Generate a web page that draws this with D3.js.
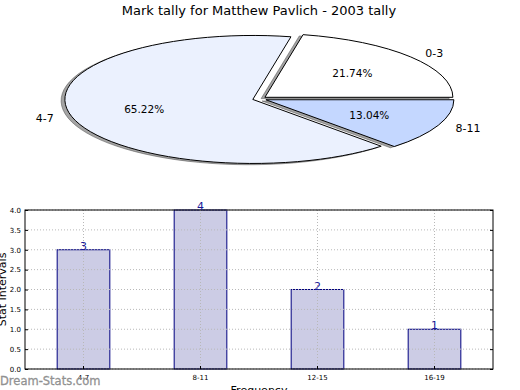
<!DOCTYPE html>
<html>
<head>
<meta charset="utf-8">
<script src="https://cdn.jsdelivr.net/npm/d3@7"></script>
<style>
  body { margin: 0; background: #fff; }
  svg { display: block; font-family: "DejaVu Sans", sans-serif; }
</style>
</head>
<body>
<div id="chart"></div>
<script>
// pie data
const pieLabels = ['0-3', '4-7', '8-11'];
const pieValues = [5, 15, 3];
const pieColors = ['#ffffff', '#ebf1fe', '#c4d7ff'];

// bar data
const barCats = ['4-7', '8-11', '12-15', '16-19'];
const barValues = [3, 4, 2, 1];
const yTicks = [0, 0.5, 1, 1.5, 2, 2.5, 3, 3.5, 4];

const W = 520, H = 390;
const svg = d3.select('#chart').append('svg')
  .attr('width', W)
  .attr('height', H);

svg.append('text')
  .attr('x', 259).attr('y', 15)
  .attr('text-anchor', 'middle')
  .style('font-size', '13px')
  .text('Mark tally for Matthew Pavlich - 2003 tally');

// ---- Pie (elliptical, matplotlib style: ccw from east) ----
const cx = 259.5, cy = 98.8, rx = 188, ry = 64;
const explode = 0.037;

const pie = d3.pie()
  .sort(null)
  .startAngle(Math.PI / 2)
  .endAngle(Math.PI / 2 - 2 * Math.PI);

const arc = d3.arc().innerRadius(0).outerRadius(1);
const slices = pie(pieValues);
const total = d3.sum(pieValues);

function offset(d, k) {
  const a = (d.startAngle + d.endAngle) / 2;
  return [Math.sin(a) * k * rx, -Math.cos(a) * k * ry];
}

const pg = svg.append('g');

// shadows first
pg.selectAll('path.shadow')
  .data(slices)
  .join('path')
  .attr('class', 'shadow')
  .attr('transform', d => {
    const [dx, dy] = offset(d, explode);
    return `translate(${cx + dx - 0.02 * rx},${cy + dy + 0.02 * ry}) scale(${rx},${ry})`;
  })
  .attr('d', arc)
  .style('fill', '#4a4a4a')
  .style('fill-opacity', 0.5)
  .style('stroke', '#4a4a4a')
  .style('stroke-opacity', 0.5)
  .style('stroke-width', 1)
  .attr('vector-effect', 'non-scaling-stroke');

pg.selectAll('path.wedge')
  .data(slices)
  .join('path')
  .attr('class', 'wedge')
  .attr('transform', d => {
    const [dx, dy] = offset(d, explode);
    return `translate(${cx + dx},${cy + dy}) scale(${rx},${ry})`;
  })
  .attr('d', arc)
  .style('fill', (d, i) => pieColors[i])
  .style('stroke', '#000')
  .style('stroke-width', 1)
  .attr('vector-effect', 'non-scaling-stroke');

// labels at 1.1, pct at 0.6
slices.forEach((d, i) => {
  const [ex, ey] = offset(d, explode);
  const [lx, ly] = offset(d, 1.1);
  const [px, py] = offset(d, 0.6);
  svg.append('text')
    .attr('x', cx + ex + lx)
    .attr('y', cy + ey + ly)
    .attr('dy', '0.35em')
    .attr('text-anchor', lx > 0 ? 'start' : 'end')
    .style('font-size', '11px')
    .text(pieLabels[i]);
  svg.append('text')
    .attr('x', cx + ex + px)
    .attr('y', cy + ey + py)
    .attr('dy', '0.35em')
    .attr('text-anchor', 'middle')
    .style('font-size', '10.5px')
    .text((100 * pieValues[i] / total).toFixed(2) + '%');
});

// ---- Bar chart ----
const bLeft = 25, bRight = 493, bTop = 210, bBottom = 369;

const x = d3.scaleBand()
  .domain(barCats)
  .range([bLeft, bRight])
  .paddingInner(0.55)
  .paddingOuter(0.275);

const y = d3.scaleLinear()
  .domain([0, 4])
  .range([bBottom, bTop]);

const bg = svg.append('g');

bg.selectAll('rect.bar')
  .data(barValues)
  .join('rect')
  .attr('class', 'bar')
  .attr('x', (d, i) => x(barCats[i]))
  .attr('y', d => y(d))
  .attr('width', x.bandwidth())
  .attr('height', d => bBottom - y(d))
  .style('fill', '#cccce5')
  .style('stroke', '#000080')
  .style('stroke-width', 1);

// grid
bg.selectAll('line.hgrid')
  .data(yTicks)
  .join('line')
  .attr('class', 'hgrid')
  .attr('x1', bLeft).attr('x2', bRight)
  .attr('y1', d => y(d)).attr('y2', d => y(d))
  .style('stroke', '#b8b8b8')
  .style('stroke-dasharray', '1,2');

bg.selectAll('line.vgrid')
  .data(barCats)
  .join('line')
  .attr('class', 'vgrid')
  .attr('x1', d => x(d) + x.bandwidth() / 2)
  .attr('x2', d => x(d) + x.bandwidth() / 2)
  .attr('y1', bTop).attr('y2', bBottom)
  .style('stroke', '#b8b8b8')
  .style('stroke-dasharray', '1,2');

// frame
bg.append('rect')
  .attr('x', bLeft).attr('y', bTop)
  .attr('width', bRight - bLeft).attr('height', bBottom - bTop)
  .style('fill', 'none')
  .style('stroke', '#000')
  .style('stroke-width', 1);

// axes
const yAxis = d3.axisLeft(y).tickValues(yTicks).tickFormat(d3.format('.1f'))
  .tickSizeInner(-3).tickSizeOuter(0).tickPadding(4);
const ya = bg.append('g').attr('transform', `translate(${bLeft},0)`).call(yAxis);
ya.select('.domain').remove();
ya.selectAll('text').style('font-size', '7px').style('font-family', 'DejaVu Sans');

const yAxisR = d3.axisRight(y).tickValues(yTicks).tickFormat('')
  .tickSizeInner(-3).tickSizeOuter(0);
const yr = bg.append('g').attr('transform', `translate(${bRight},0)`).call(yAxisR);
yr.select('.domain').remove();

const xAxis = d3.axisBottom(x).tickSizeInner(-3).tickSizeOuter(0).tickPadding(6);
const xa = bg.append('g').attr('transform', `translate(0,${bBottom})`).call(xAxis);
xa.select('.domain').remove();
xa.selectAll('text').style('font-size', '7px').style('font-family', 'DejaVu Sans');

// value labels
bg.selectAll('text.val')
  .data(barValues)
  .join('text')
  .attr('class', 'val')
  .attr('x', (d, i) => x(barCats[i]) + x.bandwidth() / 2)
  .attr('y', d => y(d))
  .attr('text-anchor', 'middle')
  .style('font-size', '11px')
  .style('fill', '#1a1a99')
  .text(d => d);

// axis titles
svg.append('text')
  .attr('transform', `translate(6,${(bTop + bBottom) / 2}) rotate(-90)`)
  .attr('text-anchor', 'middle')
  .style('font-size', '11px')
  .text('Stat Intervals');

svg.append('text')
  .attr('x', (bLeft + bRight) / 2)
  .attr('y', 394)
  .attr('text-anchor', 'middle')
  .style('font-size', '11px')
  .text('Frequency');

// watermark
svg.append('text')
  .attr('x', 0).attr('y', 385)
  .style('font-size', '11.5px')
  .style('fill', '#8a8a8a')
  .style('stroke', '#8a8a8a')
  .style('stroke-width', 0.3)
  .style('fill-opacity', 0.9)
  .text('Dream-Stats.com');
</script>
</body>
</html>
